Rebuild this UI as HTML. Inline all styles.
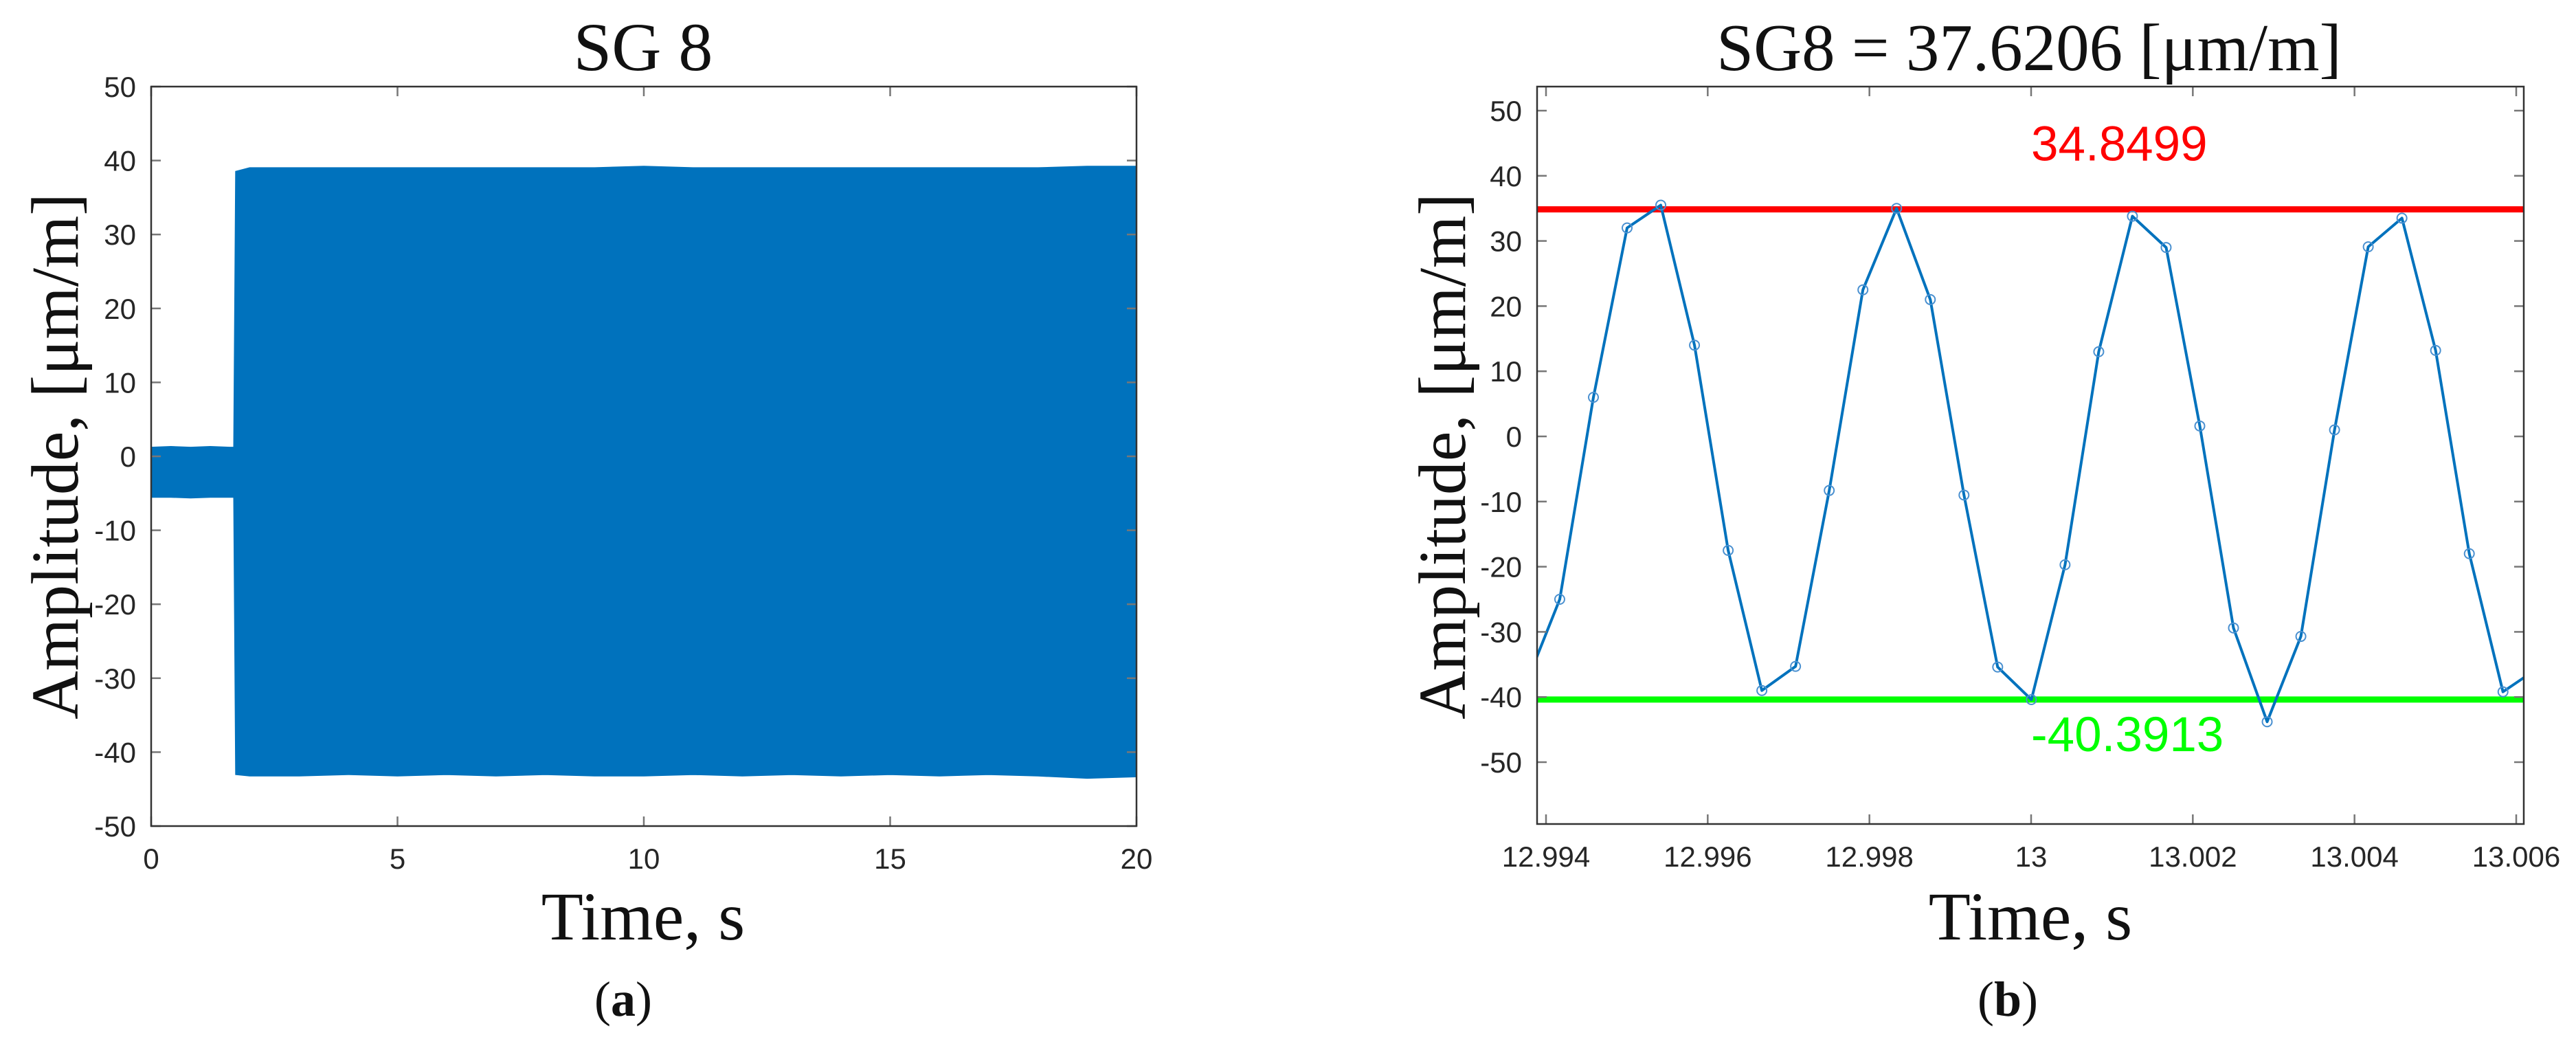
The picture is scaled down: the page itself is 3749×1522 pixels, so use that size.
<!DOCTYPE html>
<html><head><meta charset="utf-8"><style>
html,body{margin:0;padding:0;background:#fff;}
svg{display:block;}
.tick{font-family:"Liberation Sans",Arial,sans-serif;font-size:42px;fill:#262626;}
.ser{font-family:"Liberation Serif","Times New Roman",serif;fill:#111;}
</style></head><body>
<svg id="fig" width="3749" height="1522" viewBox="0 0 3749 1522" xmlns="http://www.w3.org/2000/svg">
<defs>
<clipPath id="clipA"><rect x="220" y="126" width="1434" height="1076"/></clipPath>
<clipPath id="clipB"><rect x="2237" y="126" width="1436" height="1073"/></clipPath>
</defs>
<g id="panelA"></g>
<g id="panelB"></g>
<text class="ser" x="936" y="102" font-size="100" text-anchor="middle">SG 8</text>
<text class="ser" x="2953" y="102" font-size="97" text-anchor="middle">SG8 = 37.6206 [μm/m]</text>
<text class="ser" x="936" y="1367" font-size="100" text-anchor="middle" fill="#222">Time, s</text>
<text class="ser" x="2955" y="1367" font-size="100" text-anchor="middle" fill="#222">Time, s</text>
<text class="ser" transform="translate(113,664) rotate(-90)" font-size="98" text-anchor="middle" fill="#222">Amplitude, [μm/m]</text>
<text class="ser" transform="translate(2132,664) rotate(-90)" font-size="98" text-anchor="middle" fill="#222">Amplitude, [μm/m]</text>
<text class="ser" x="907" y="1478" font-size="72" text-anchor="middle">(<tspan font-weight="bold">a</tspan>)</text>
<text class="ser" x="2922" y="1478" font-size="72" text-anchor="middle">(<tspan font-weight="bold">b</tspan>)</text>
</svg>
<script>
// ---- Panel A data (envelope of the signal) ----
const envTimes = [0, 0.4, 0.8, 1.2, 1.6, 1.68, 1.72, 2, 3, 4, 5, 6, 7, 8, 9, 10, 11, 12, 13, 14, 15, 16, 17, 18, 19, 20];
const envUpper = [1.2, 1.3, 1.2, 1.3, 1.2, 1.2, 38.5, 39, 39, 39, 39, 39, 39, 39, 39, 39.2, 39, 39, 39, 39, 39, 39, 39, 39, 39.2, 39.2];
const envLower = [-5.5, -5.5, -5.6, -5.5, -5.5, -5.5, -43, -43.2, -43.2, -43, -43.2, -43, -43.2, -43, -43.2, -43.2, -43, -43.2, -43, -43.2, -43, -43.2, -43, -43.2, -43.5, -43.3];
const xTicksA = [0, 5, 10, 15, 20];
const yTicksA = [-50, -40, -30, -20, -10, 0, 10, 20, 30, 40, 50];

// ---- Panel B data ----
const sampleStart = 12.993753;
const samplePeriod = 1 / 2400;
const sampleValues = [-38, -25, 6, 32, 35.5, 14, -17.5, -39, -35.3, -8.3, 22.5, 35, 21, -9, -35.4, -40.4, -19.7, 13, 33.8, 29, 1.6, -29.4, -43.8, -30.7, 1, 29.1, 33.5, 13.2, -18, -39.2, -35.7];
const maxLevel = 34.8499;
const minLevel = -40.3913;
const maxLabel = ["34.8499"];
const minLabel = ["-40.3913"];
const xTicksB = [12.994, 12.996, 12.998, 13, 13.002, 13.004, 13.006];
const yTicksB = [-50, -40, -30, -20, -10, 0, 10, 20, 30, 40, 50];

const NS = "http://www.w3.org/2000/svg";
function mk(tag, attrs, parent) {
  const e = document.createElementNS(NS, tag);
  for (const k in attrs) e.setAttribute(k, attrs[k]);
  parent.appendChild(e);
  return e;
}
function lin(d0, d1, r0, r1) { return v => r0 + (v - d0) * (r1 - r0) / (d1 - d0); }

// ===== Panel A =====
const gA = document.getElementById('panelA');
const AX = { l: 220, r: 1654, t: 126, b: 1202 };
const xA = lin(0, 20, AX.l, AX.r);
const yA = lin(-50, 50, AX.b, AX.t);
let pts = [];
for (let i = 0; i < envTimes.length; i++) pts.push(xA(envTimes[i]).toFixed(1) + ',' + yA(envUpper[i]).toFixed(1));
for (let i = envTimes.length - 1; i >= 0; i--) pts.push(xA(envTimes[i]).toFixed(1) + ',' + yA(envLower[i]).toFixed(1));
const sigA = mk('polygon', { points: pts.join(' '), fill: '#0072BD', stroke: '#0072BD', 'stroke-width': 2, 'clip-path': 'url(#clipA)' }, gA);



function drawAxes(g, AX, xs, ys, xT, yT, xFmt, tag) {
  xT.forEach(v => {
    const x = xs(v);
    const t1 = mk('line', { x1: x, x2: x, y1: AX.b, y2: AX.b - 14, stroke: '#777', 'stroke-width': 2.5 }, g);
    
    
    mk('line', { x1: x, x2: x, y1: AX.t, y2: AX.t + 14, stroke: '#777', 'stroke-width': 2.5 }, g);
    const lb = mk('text', { x: x, y: AX.b + 62, 'text-anchor': 'middle', class: 'tick' }, g);
    lb.textContent = xFmt(v);
    
    
  });
  yT.forEach(v => {
    const y = ys(v);
    const t1 = mk('line', { x1: AX.l, x2: AX.l + 14, y1: y, y2: y, stroke: '#777', 'stroke-width': 2.5 }, g);
    
    
    mk('line', { x1: AX.r, x2: AX.r - 14, y1: y, y2: y, stroke: '#777', 'stroke-width': 2.5 }, g);
    const lb = mk('text', { x: AX.l - 22, y: y + 15, 'text-anchor': 'end', class: 'tick' }, g);
    lb.textContent = String(v);
    
    
  });
  const box = mk('rect', { x: AX.l, y: AX.t, width: AX.r - AX.l, height: AX.b - AX.t, fill: 'none', stroke: '#333', 'stroke-width': 2.5 }, g);
  
  
}
drawAxes(gA, AX, xA, yA, xTicksA, yTicksA, v => String(v), 'panel-a');

// ===== Panel B =====
const gB = document.getElementById('panelB');
const BX = { l: 2237, r: 3673, t: 126, b: 1199 };
const xB = lin(12.994, 13.006, 2250, 3662);
const yB = lin(0, 50, 635, 161);

const redLine = mk('line', { x1: BX.l, x2: BX.r, y1: yB(maxLevel), y2: yB(maxLevel), stroke: '#FF0000', 'stroke-width': 9 }, gB);


const greenLine = mk('line', { x1: BX.l, x2: BX.r, y1: yB(minLevel), y2: yB(minLevel), stroke: '#00FF00', 'stroke-width': 9 }, gB);



const gSig = mk('g', { 'clip-path': 'url(#clipB)' }, gB);


const lp = sampleValues.map((v, i) => xB(sampleStart + i * samplePeriod).toFixed(1) + ',' + yB(v).toFixed(1));
const pl = mk('polyline', { points: lp.join(' '), fill: 'none', stroke: '#0072BD', 'stroke-width': 4, 'stroke-linejoin': 'round' }, gSig);


sampleValues.forEach((v, i) => {
  const c = mk('circle', { cx: xB(sampleStart + i * samplePeriod), cy: yB(v), r: 7, fill: 'none', stroke: '#4a90d0', 'stroke-width': 2 }, gSig);
  
  
});

const rt = mk('text', { x: xB(13), y: yB(maxLevel) - 71, class: 'tick' }, gB);
rt.setAttribute('style', 'font-size:71px;fill:#FF0000');
rt.textContent = maxLabel[0];


const gt = mk('text', { x: xB(13), y: yB(minLevel) + 75, class: 'tick' }, gB);
gt.setAttribute('style', 'font-size:71px;fill:#00FF00');
gt.textContent = minLabel[0];



drawAxes(gB, BX, xB, yB, xTicksB, yTicksB, v => String(v), 'panel-b');
</script>
</body></html>
